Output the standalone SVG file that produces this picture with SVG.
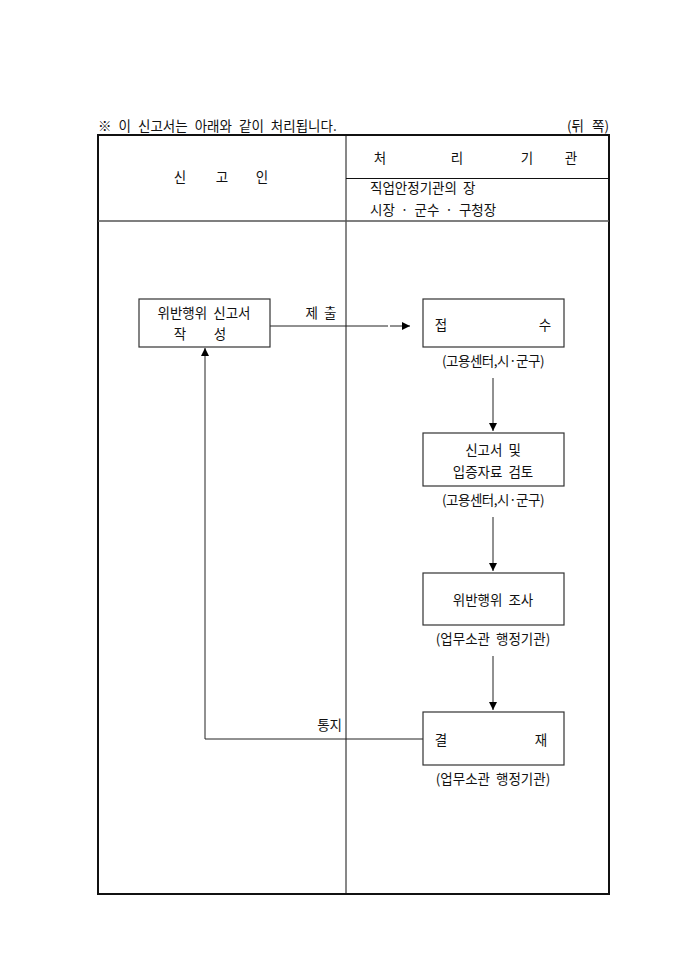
<svg xmlns="http://www.w3.org/2000/svg" width="680" height="962" viewBox="0 0 680 962">
<defs>
<marker id="ah" viewBox="0 0 10 10" refX="10" refY="5" markerWidth="9" markerHeight="8" markerUnits="userSpaceOnUse" orient="auto">
<path d="M0,0 L10,5 L0,10 Z" fill="#000"/>
</marker>
<style>
text{font-family:"Noto Sans CJK KR","Noto Sans",sans-serif;font-size:13.5px;fill:#111;word-spacing:3px;}
.c{text-anchor:middle;}
.box{fill:#fff;stroke:#333;stroke-width:1.2;}
.conn{fill:none;stroke:#222;stroke-width:1;}
.grid{stroke:#111;stroke-width:1;fill:none;}
</style>
</defs>
<rect width="680" height="962" fill="#fff"/>
<g id="header">
<text x="98" y="131" font-size="13" style="word-spacing:4px">※ 이 신고서는 아래와 같이 처리됩니다.</text>
<text x="609" y="131" text-anchor="end" font-size="13" style="word-spacing:5px">(뒤 쪽)</text>
</g>
<g id="table">
<rect x="98" y="135" width="511" height="759" fill="none" stroke="#111" stroke-width="2"/>
<line class="grid" x1="346" y1="135" x2="346" y2="894"/>
<line class="grid" x1="346" y1="178.5" x2="609" y2="178.5"/>
<line x1="98" y1="221" x2="609" y2="221" stroke="#555" stroke-width="1.5"/>
<text x="180" y="182" class="c">신</text>
<text x="222" y="182" class="c">고</text>
<text x="262" y="182" class="c">인</text>
<text x="380" y="163" class="c">처</text>
<text x="457" y="163" class="c">리</text>
<text x="527" y="163" class="c">기</text>
<text x="571" y="163" class="c">관</text>
<text x="370" y="193">직업안정기관의 장</text>
<text x="370" y="215">시장 · 군수 · 구청장</text>
</g>
<g id="connectors">
<line class="conn" x1="270" y1="326" x2="388" y2="326"/>
<line class="conn" x1="390" y1="326" x2="410" y2="326" marker-end="url(#ah)"/>
<text x="321" y="318" class="c">제 출</text>
<line class="conn" x1="493" y1="378" x2="493" y2="431" marker-end="url(#ah)"/>
<line class="conn" x1="493" y1="517" x2="493" y2="571" marker-end="url(#ah)"/>
<line class="conn" x1="493" y1="656" x2="493" y2="710" marker-end="url(#ah)"/>
<polyline class="conn" points="423,739 205,739 205,348" marker-end="url(#ah)"/>
<text x="342" y="730" text-anchor="end">통지</text>
</g>
<g id="n1">
<rect class="box" x="139" y="299" width="131" height="48"/>
<text x="204" y="318" class="c">위반행위 신고서</text>
<text x="180" y="339" class="c">작</text>
<text x="220" y="339" class="c">성</text>
</g>
<g id="n2">
<rect class="box" x="423" y="299" width="141" height="48"/>
<text x="441" y="330" class="c">접</text>
<text x="545" y="330" class="c">수</text>
<text x="493" y="366" class="c" font-size="12.5" style="word-spacing:0;letter-spacing:-0.5px">(고용센터,시·군구)</text>
</g>
<g id="n3">
<rect class="box" x="423" y="433" width="141" height="53"/>
<text x="493" y="455" class="c">신고서 및</text>
<text x="493" y="477" class="c">입증자료 검토</text>
<text x="493" y="505" class="c" font-size="12.5" style="word-spacing:0;letter-spacing:-0.5px">(고용센터,시·군구)</text>
</g>
<g id="n4">
<rect class="box" x="423" y="573" width="141" height="52"/>
<text x="493" y="605" class="c">위반행위 조사</text>
<text x="493" y="644" class="c" font-size="12.5">(업무소관 행정기관)</text>
</g>
<g id="n5">
<rect class="box" x="423" y="712" width="141" height="53"/>
<text x="441" y="745" class="c">결</text>
<text x="541" y="745" class="c">재</text>
<text x="493" y="784" class="c" font-size="12.5">(업무소관 행정기관)</text>
</g>
</svg>
